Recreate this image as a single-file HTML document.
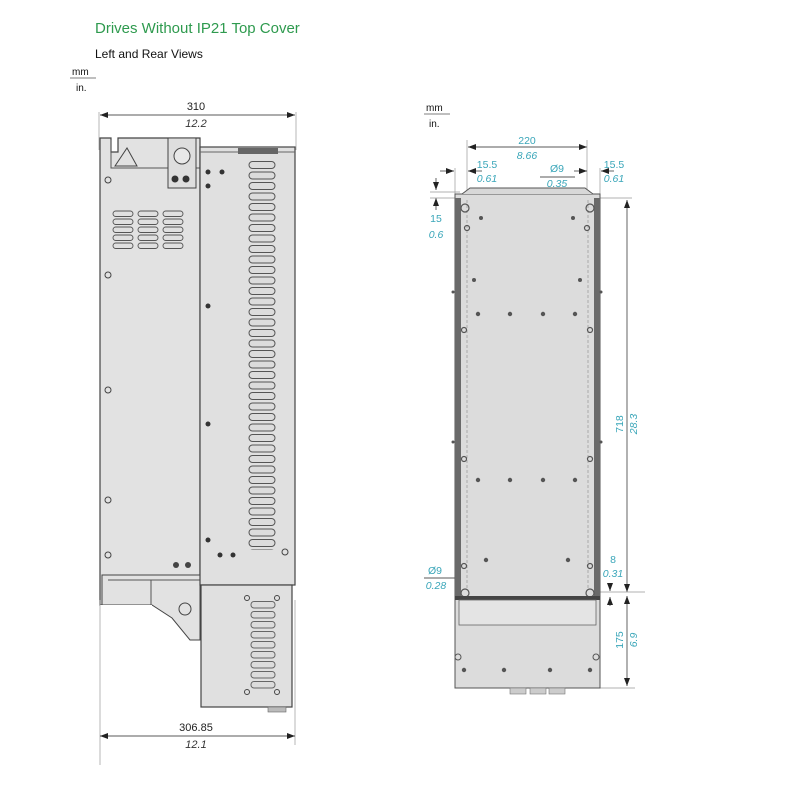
<!DOCTYPE html>
<html><head><meta charset="utf-8"><style>
html,body{margin:0;padding:0;background:#fff;}
svg{display:block;font-family:"Liberation Sans",sans-serif;}
</style></head><body>
<svg width="800" height="800" viewBox="0 0 800 800" xmlns="http://www.w3.org/2000/svg">
<defs>
<pattern id="slot" x="248" y="160" width="30" height="10.5" patternUnits="userSpaceOnUse">
<rect x="1" y="1.5" width="26" height="7" rx="3.5" fill="#dcdcdc" stroke="#555" stroke-width="1"/>
</pattern>
<pattern id="slot2" x="250" y="600" width="26" height="10" patternUnits="userSpaceOnUse">
<rect x="1" y="1.5" width="24" height="6.5" rx="3" fill="#dcdcdc" stroke="#666" stroke-width="1"/>
</pattern>
<pattern id="vent" x="112" y="210" width="25" height="8" patternUnits="userSpaceOnUse">
<rect x="1" y="1" width="20" height="5.5" rx="2.7" fill="#e0e0e0" stroke="#555" stroke-width="0.9"/>
</pattern>
<marker id="a" markerWidth="8" markerHeight="6" refX="8" refY="3" orient="auto-start-reverse" markerUnits="userSpaceOnUse"><path d="M0,0 L8,3 L0,6z" fill="#222"/></marker>
</defs>

<text x="95" y="33" font-size="15" fill="#2e9a4e">Drives Without IP21 Top Cover</text>
<text x="95" y="58" font-size="12" fill="#111">Left and Rear Views</text>
<text x="72" y="75" font-size="10" fill="#111">mm</text>
<line x1="70" y1="78" x2="96" y2="78" stroke="#555" stroke-width="0.8"/>
<text x="76" y="91" font-size="10" fill="#111">in.</text>

<!-- LEFT VIEW -->
<line x1="99" y1="112" x2="99" y2="150" stroke="#999" stroke-width="0.7"/>
<line x1="296" y1="112" x2="296" y2="150" stroke="#999" stroke-width="0.7"/>
<line x1="100" y1="115" x2="295" y2="115" stroke="#222" stroke-width="0.8" marker-start="url(#a)" marker-end="url(#a)"/>
<text x="196" y="110" font-size="11" text-anchor="middle" fill="#222">310</text>
<text x="196" y="127" font-size="11" font-style="italic" text-anchor="middle" fill="#333">12.2</text>

<!-- left panel -->
<path d="M100,138 L111,138 L111,152 L118,152 L118,138 L200,138 L200,605 L100,605 Z" fill="#e2e2e2" stroke="#444" stroke-width="1.2"/>
<path d="M111,140 L111,168 L200,168" fill="none" stroke="#555" stroke-width="1"/>
<path d="M115,166 L127,148 L137,166 Z" fill="none" stroke="#444" stroke-width="1"/>
<rect x="168" y="138" width="28" height="50" fill="#dedede" stroke="#444" stroke-width="1"/>
<circle cx="182" cy="156" r="8" fill="#e8e8e8" stroke="#444"/>
<circle cx="175" cy="179" r="3.5" fill="#333"/><circle cx="186" cy="179" r="3.5" fill="#333"/>
<rect x="112" y="210" width="75" height="40" fill="url(#vent)"/>
<circle cx="108" cy="180" r="3" fill="none" stroke="#444"/>
<circle cx="108" cy="275" r="3" fill="none" stroke="#444"/>
<circle cx="108" cy="390" r="3" fill="none" stroke="#444"/>
<circle cx="108" cy="500" r="3" fill="none" stroke="#444"/>
<circle cx="108" cy="555" r="3" fill="none" stroke="#444"/>
<circle cx="176" cy="565" r="3" fill="#444"/><circle cx="188" cy="565" r="3" fill="#444"/>
<!-- lower left bracket -->
<path d="M102,575 L200,575 L200,640 L190,640 L172,618 L152,605 L102,605 Z" fill="#e2e2e2" stroke="#444" stroke-width="1"/>
<line x1="108" y1="580" x2="200" y2="580" stroke="#555"/>
<line x1="151" y1="580" x2="151" y2="605" stroke="#555"/>
<circle cx="185" cy="609" r="6" fill="none" stroke="#444"/>
<rect x="100" y="605" width="52" height="160" fill="#fff"/>
<line x1="100" y1="600" x2="100" y2="765" stroke="#999" stroke-width="0.7"/>

<!-- right panel -->
<rect x="200" y="147" width="95" height="438" fill="#e0e0e0" stroke="#444" stroke-width="1.2"/>
<line x1="200" y1="152" x2="295" y2="152" stroke="#666"/>
<rect x="238" y="148" width="40" height="6" fill="#666"/>
<rect x="248" y="160" width="30" height="390" fill="url(#slot)"/>
<circle cx="208" cy="172" r="2.5" fill="#333"/><circle cx="222" cy="172" r="2.5" fill="#333"/>
<circle cx="208" cy="186" r="2.5" fill="#333"/>
<circle cx="208" cy="306" r="2.5" fill="#333"/>
<circle cx="208" cy="424" r="2.5" fill="#333"/>
<circle cx="208" cy="540" r="2.5" fill="#333"/>
<circle cx="220" cy="555" r="2.5" fill="#333"/><circle cx="233" cy="555" r="2.5" fill="#333"/>
<circle cx="285" cy="552" r="3" fill="none" stroke="#444"/>
<!-- lower box -->
<rect x="201" y="585" width="91" height="122" fill="#e0e0e0" stroke="#444" stroke-width="1.2"/>
<rect x="250" y="600" width="26" height="90" fill="url(#slot2)"/>
<circle cx="247" cy="598" r="2.5" fill="none" stroke="#444"/><circle cx="277" cy="598" r="2.5" fill="none" stroke="#444"/>
<circle cx="247" cy="692" r="2.5" fill="none" stroke="#444"/><circle cx="277" cy="692" r="2.5" fill="none" stroke="#444"/>
<rect x="268" y="707" width="18" height="5" fill="#bbb" stroke="#666" stroke-width="0.6"/>
<line x1="295" y1="600" x2="295" y2="745" stroke="#999" stroke-width="0.7"/>
<line x1="100" y1="736" x2="295" y2="736" stroke="#222" stroke-width="0.8" marker-start="url(#a)" marker-end="url(#a)"/>
<text x="196" y="731" font-size="11" text-anchor="middle" fill="#222">306.85</text>
<text x="196" y="748" font-size="11" font-style="italic" text-anchor="middle" fill="#333">12.1</text>

<!-- RIGHT VIEW -->
<text x="426" y="111" font-size="10" fill="#111">mm</text>
<line x1="424" y1="114" x2="450" y2="114" stroke="#555" stroke-width="0.8"/>
<text x="429" y="127" font-size="10" fill="#111">in.</text>

<g fill="#3aa6b9" font-size="10.5" text-anchor="middle">
<text x="527" y="144">220</text><text x="527" y="159" font-style="italic">8.66</text>
<text x="487" y="168">15.5</text><text x="487" y="182" font-style="italic">0.61</text>
<text x="557" y="172">Ø9</text><text x="557" y="187" font-style="italic">0.35</text>
<text x="614" y="168">15.5</text><text x="614" y="182" font-style="italic">0.61</text>
<text x="436" y="222">15</text><text x="436" y="238" font-style="italic">0.6</text>
<text x="613" y="563">8</text><text x="613" y="577" font-style="italic">0.31</text>
<text x="435" y="574">Ø9</text><text x="436" y="589" font-style="italic">0.28</text>
<text transform="translate(623,424) rotate(-90)">718</text>
<text transform="translate(637,424) rotate(-90)" font-style="italic">28.3</text>
<text transform="translate(623,640) rotate(-90)">175</text>
<text transform="translate(637,640) rotate(-90)" font-style="italic">6.9</text>
</g>
<g stroke="#222" stroke-width="0.7" fill="none">
<line x1="468" y1="147" x2="587" y2="147" marker-start="url(#a)" marker-end="url(#a)"/>
<line x1="467" y1="140" x2="467" y2="198" stroke="#999"/>
<line x1="587" y1="140" x2="587" y2="198" stroke="#999"/>
<line x1="455" y1="168" x2="455" y2="200" stroke="#999"/>
<line x1="600" y1="168" x2="600" y2="200" stroke="#999"/>
<line x1="440" y1="171" x2="454" y2="171" marker-end="url(#a)"/>
<line x1="482" y1="171" x2="468" y2="171" marker-end="url(#a)"/>
<line x1="574" y1="171" x2="587" y2="171" marker-end="url(#a)"/>
<line x1="614" y1="171" x2="601" y2="171" marker-end="url(#a)"/>
<line x1="540" y1="177" x2="575" y2="177"/>
<line x1="436" y1="178" x2="436" y2="190" marker-end="url(#a)"/>
<line x1="436" y1="210" x2="436" y2="198" marker-end="url(#a)"/>
<line x1="430" y1="192" x2="460" y2="192" stroke="#999"/>
<line x1="430" y1="198" x2="460" y2="198" stroke="#999"/>
<line x1="600" y1="198" x2="632" y2="198" stroke="#999"/>
<line x1="627" y1="200" x2="627" y2="592" marker-start="url(#a)" marker-end="url(#a)"/>
<line x1="627" y1="596" x2="627" y2="686" marker-start="url(#a)" marker-end="url(#a)"/>
<line x1="590" y1="592" x2="645" y2="592" stroke="#999"/>
<line x1="600" y1="688" x2="635" y2="688" stroke="#999"/>
<line x1="610" y1="583" x2="610" y2="591" marker-end="url(#a)"/>
<line x1="610" y1="606" x2="610" y2="597" marker-end="url(#a)"/>
<line x1="424" y1="578" x2="458" y2="578"/>
<line x1="470" y1="592" x2="480" y2="592" stroke="#999"/>
</g>
<!-- plate -->
<rect x="455" y="194" width="145" height="494" fill="#dcdcdc" stroke="#555" stroke-width="1"/>
<rect x="455" y="198" width="6" height="398" fill="#6a6a6a"/>
<rect x="594" y="198" width="6" height="398" fill="#6a6a6a"/>
<line x1="467" y1="200" x2="467" y2="590" stroke="#aaa" stroke-dasharray="3,2"/>
<line x1="588" y1="200" x2="588" y2="590" stroke="#aaa" stroke-dasharray="3,2"/>
<path d="M462,194 L470,188 L585,188 L593,194" fill="#d8d8d8" stroke="#555"/>
<g fill="none" stroke="#555" stroke-width="1.2">
<circle cx="465" cy="208" r="4"/><circle cx="590" cy="208" r="4"/>
<circle cx="467" cy="228" r="2.5"/><circle cx="587" cy="228" r="2.5"/>
<circle cx="464" cy="330" r="2.5"/><circle cx="590" cy="330" r="2.5"/>
<circle cx="464" cy="459" r="2.5"/><circle cx="590" cy="459" r="2.5"/>
<circle cx="464" cy="566" r="2.5"/><circle cx="590" cy="566" r="2.5"/>
<circle cx="465" cy="593" r="4"/><circle cx="590" cy="593" r="4"/>
</g>
<g fill="#555">
<circle cx="481" cy="218" r="2"/><circle cx="573" cy="218" r="2"/>
<circle cx="474" cy="280" r="2"/><circle cx="580" cy="280" r="2"/>
<circle cx="478" cy="314" r="2.2"/><circle cx="510" cy="314" r="2.2"/><circle cx="543" cy="314" r="2.2"/><circle cx="575" cy="314" r="2.2"/>
<circle cx="478" cy="480" r="2.2"/><circle cx="510" cy="480" r="2.2"/><circle cx="543" cy="480" r="2.2"/><circle cx="575" cy="480" r="2.2"/>
<circle cx="486" cy="560" r="2.2"/><circle cx="568" cy="560" r="2.2"/>
<circle cx="467" cy="619" r="2.2"/><circle cx="587" cy="619" r="2.2"/>
<circle cx="464" cy="670" r="2.2"/><circle cx="504" cy="670" r="2.2"/><circle cx="550" cy="670" r="2.2"/><circle cx="590" cy="670" r="2.2"/>
<circle cx="453" cy="292" r="1.5"/><circle cx="601" cy="292" r="1.5"/>
<circle cx="453" cy="442" r="1.5"/><circle cx="601" cy="442" r="1.5"/>
</g>
<rect x="455" y="596" width="145" height="4" fill="#444"/>
<rect x="459" y="600" width="137" height="25" fill="#e4e4e4" stroke="#666" stroke-width="0.8"/>
<circle cx="458" cy="657" r="3" fill="none" stroke="#555"/><circle cx="596" cy="657" r="3" fill="none" stroke="#555"/>
<rect x="510" y="688" width="16" height="6" fill="#ccc" stroke="#777" stroke-width="0.6"/>
<rect x="530" y="688" width="16" height="6" fill="#ccc" stroke="#777" stroke-width="0.6"/>
<rect x="549" y="688" width="16" height="6" fill="#ccc" stroke="#777" stroke-width="0.6"/>
</svg>
</body></html>
